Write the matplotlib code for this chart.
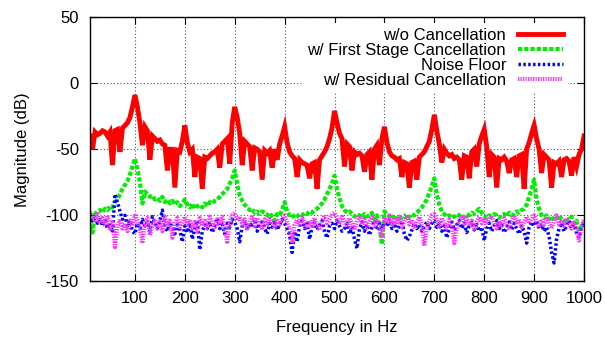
import numpy as np
import matplotlib
matplotlib.use("Agg")
import matplotlib.pyplot as plt

plt.rcParams['font.family'] = ['Liberation Sans', 'DejaVu Sans']
plt.rcParams['axes.unicode_minus'] = False

freq = list(range(10, 1001, 5))

wo_cancel = [
    -40, -50, -37, -39, -38, -36, -37, -40, -37, -62, -36, -35, -52, -34, -32, -30, -26, -18,
    -9, -18, -30, -47, -33, -36, -58, -40, -42, -44, -43, -46, -47, -66, -50, -50, -79, -51, -52, -44,
    -32, -45, -52, -50, -71, -56, -57, -80, -56, -57, -55, -53, -52, -50, -64, -46, -44, -42, -61, -30,
    -18, -26, -38, -62, -44, -46, -48, -66, -49, -50, -52, -73, -51, -53, -51, -64, -50, -58, -46, -40,
    -33, -45, -52, -55, -57, -71, -58, -60, -61, -62, -72, -61, -60, -80, -58, -55, -52, -48, -42, -34,
    -21, -30, -38, -42, -63, -46, -48, -66, -52, -54, -53, -55, -67, -54, -52, -73, -50, -47, -62, -42,
    -33, -45, -52, -55, -56, -58, -57, -71, -60, -61, -79, -60, -59, -73, -56, -54, -52, -48, -44, -35,
    -24, -36, -46, -60, -50, -53, -55, -54, -57, -56, -58, -73, -55, -56, -72, -52, -50, -63, -46, -40,
    -35, -48, -71, -54, -56, -79, -57, -58, -56, -59, -68, -58, -57, -71, -55, -54, -80, -50, -45, -38,
    -32, -42, -50, -68, -54, -56, -58, -79, -60, -61, -59, -71, -58, -57, -59, -70, -56, -63, -54, -50,
    -40,
]

first_stage = [
    -98, -113, -99, -97, -96, -98, -95, -96, -93, -94, -90, -88, -84, -80, -77, -74, -69, -63,
    -57, -65, -75, -91, -82, -84, -86, -85, -88, -87, -89, -86, -90, -88, -91, -89, -92, -90, -93, -91,
    -88, -92, -94, -91, -95, -93, -92, -94, -91, -93, -90, -91, -89, -88, -86, -84, -82, -80, -76, -72,
    -66, -76, -85, -89, -92, -94, -96, -95, -98, -97, -99, -97, -98, -100, -98, -101, -104, -99, -100, -96,
    -90, -97, -100, -99, -102, -101, -99, -100, -98, -99, -97, -98, -96, -95, -93, -91, -88, -84, -80, -76,
    -70, -80, -87, -93, -96, -98, -97, -99, -101, -99, -100, -102, -99, -101, -100, -98, -103, -100, -108, -122,
    -97, -99, -101, -103, -100, -102, -104, -101, -100, -103, -101, -99, -100, -98, -96, -94, -91, -88, -83, -78,
    -72, -84, -92, -97, -99, -101, -100, -102, -101, -99, -100, -102, -101, -99, -100, -98, -99, -97, -95, -98,
    -100, -102, -100, -101, -99, -100, -102, -100, -99, -101, -98, -100, -99, -97, -98, -96, -95, -92, -86, -80,
    -73, -88, -95, -100, -102, -100, -103, -101, -104, -102, -100, -103, -105, -102, -104, -101, -106, -104, -112, -108,
    -105,
]

noise_floor = [
    -99, -104, -102, -106, -103, -108, -104, -110, -106, -113, -84, -90, -97, -103, -100, -108, -104, -112,
    -114, -106, -110, -103, -108, -105, -112, -101, -106, -110, -104, -96, -108, -112, -105, -109, -114, -107, -111, -120,
    -108, -113, -106, -118, -110, -104, -126, -112, -107, -110, -105, -113, -108, -102, -110, -107, -114, -106, -109, -103,
    -105, -110, -120, -108, -104, -111, -106, -109, -103, -112, -107, -105, -110, -114, -106, -109, -104, -111, -107, -103,
    -106, -110, -115, -128, -112, -120, -108, -104, -110, -106, -118, -109, -105, -111, -107, -104, -112, -117, -108, -106,
    -110, -104, -108, -112, -110, -106, -114, -109, -118, -125, -110, -105, -112, -107, -115, -109, -104, -111, -106, -110,
    -105, -108, -103, -110, -106, -112, -108, -104, -114, -119, -116, -111, -106, -110, -107, -112, -108, -105, -110, -106,
    -104, -109, -106, -112, -108, -117, -110, -105, -111, -107, -104, -110, -106, -113, -108, -105, -111, -107, -112, -109,
    -119, -110, -106, -112, -108, -104, -110, -107, -113, -109, -105, -111, -106, -110, -114, -108, -112, -121, -109, -105,
    -108, -104, -110, -107, -112, -109, -116, -128, -136, -118, -110, -106, -112, -108, -104, -110, -107, -113, -117, -109,
    -106,
]

residual = [
    -97, -101, -104, -99, -106, -102, -108, -100, -110, -105, -124, -108, -103, -110, -106, -112, -104, -108,
    -99, -104, -110, -121, -106, -102, -115, -108, -103, -110, -105, -112, -101, -108, -104, -117, -106, -102, -109, -105,
    -101, -107, -103, -110, -105, -112, -102, -108, -104, -110, -101, -106, -109, -103, -107, -101, -110, -120, -104, -100,
    -98, -104, -101, -107, -103, -110, -105, -100, -108, -102, -106, -111, -103, -108, -101, -106, -110, -104, -107, -102,
    -100, -105, -110, -121, -107, -103, -108, -101, -106, -110, -104, -108, -102, -107, -111, -104, -100, -106, -103, -99,
    -98, -103, -107, -101, -105, -109, -102, -106, -111, -104, -100, -107, -103, -109, -105, -101, -108, -104, -110, -117,
    -102, -106, -100, -108, -103, -107, -101, -109, -104, -100, -107, -103, -110, -105, -101, -108, -123, -110, -104, -100,
    -99, -104, -108, -102, -106, -110, -103, -107, -121, -109, -104, -100, -106, -102, -108, -104, -110, -105, -101, -106,
    -102, -107, -103, -100, -106, -110, -104, -108, -102, -106, -111, -104, -100, -107, -103, -109, -105, -101, -106, -103,
    -100, -105, -109, -103, -107, -101, -106, -110, -104, -100, -107, -103, -108, -102, -106, -110, -104, -112, -119, -108,
    -103,
]

labels = ["w/o Cancellation", "w/ First Stage Cancellation", "Noise Floor", "w/ Residual Cancellation"]
x_ticks = [100, 200, 300, 400, 500, 600, 700, 800, 900, 1000]
y_ticks = [-150, -100, -50, 0, 50]

FS = 12

fig = plt.figure(figsize=(6.05, 3.37), dpi=100)
ax = fig.add_axes([0.1488, 0.1647, 0.8165, 0.7849])

ax.plot(freq, wo_cancel, color='#ff0000', lw=3.5, solid_joinstyle='miter', label=labels[0])
ax.plot(freq, first_stage, color='#00ee00', lw=3.0, linestyle=(0, (1.0, 0.5)), label=labels[1])
ax.plot(freq, noise_floor, color='#0000ff', lw=2.5, linestyle=(0, (0.7, 0.7)), label=labels[2])
ax.plot(freq, residual, color='#ff33ff', lw=3.0, linestyle=(0, (0.3, 0.3)), label=labels[3])

ax.set_xlim(10, 1000)
ax.set_ylim(-150, 50)
ax.set_xticks(x_ticks)
ax.set_yticks(y_ticks)
ax.grid(True, color='#555555', linestyle=(0, (1, 2)), lw=0.8)
ax.tick_params(direction='in', top=True, right=True, length=5, width=0.8, labelsize=FS)
ax.tick_params(axis='x', pad=7)
ax.tick_params(axis='y', pad=8)
for s in ax.spines.values():
    s.set_linewidth(1.0)

ax.set_xlabel("Frequency in Hz", fontsize=FS, labelpad=10)
ax.set_ylabel("Magnitude (dB)", fontsize=FS, labelpad=11)

leg = ax.legend(loc='upper right', bbox_to_anchor=(0.967, 0.978), borderaxespad=0,
                markerfirst=False, frameon=True, fancybox=False, framealpha=1.0,
                edgecolor='none', facecolor='white', fontsize=FS,
                labelspacing=0.0, handlelength=2.7, handletextpad=0.7, borderpad=0.3)

fig.savefig("out.png", dpi=100)
